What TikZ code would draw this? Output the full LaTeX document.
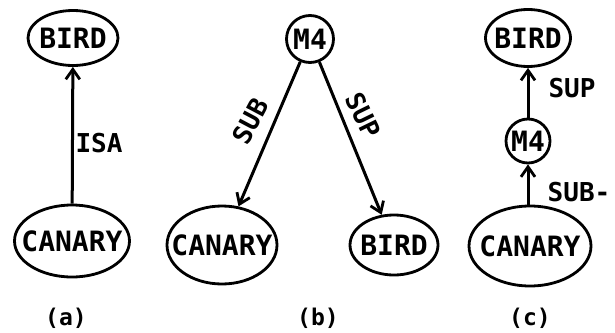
\documentclass[tikz,border=0pt]{standalone}
\usepackage{fontspec}
\setmonofont{DejaVu Sans Mono}
\usetikzlibrary{arrows.meta,shapes.geometric}
\newcommand\ntxt[1]{\makebox[0pt]{#1}}
\begin{document}
\begin{tikzpicture}[x=1pt,y=-1pt,
  every node/.style={font=\ttfamily\bfseries\fontsize{28}{30}\selectfont},
  ell/.style={draw, ellipse, line width=2.8pt, inner sep=0pt},
  circ/.style={draw, circle, line width=2.8pt, inner sep=0pt, minimum size=46pt},
  arr/.style={line width=3pt, -{Straight Barb[length=10pt,width=14pt,line width=2.8pt]}},
  lab/.style={font=\ttfamily\bfseries\fontsize{26}{28}\selectfont, inner sep=1pt},
  captxt/.style={font=\ttfamily\bfseries\fontsize{23}{26}\selectfont}]
\useasboundingbox (0,0) rectangle (615,332);
% (a)
\node[ell, minimum width=90pt, minimum height=55pt] (birdA) at (73,38) {\ntxt{BIRD}};
\node[ell, minimum width=115pt, minimum height=72pt] (canaryA) at (72,241) {\ntxt{CANARY}};
\draw[arr] (canaryA) -- (birdA);
\node[lab] (isa) at (99,143) {ISA};
\node[captxt] (capA) at (66,318) {(a)};
% (b)
\node[circ, minimum size=47pt] (m4B) at (310,39) {M4};
\node[ell, minimum width=110pt, minimum height=78pt] (canaryB) at (222,245) {\ntxt{CANARY}};
\node[ell, minimum width=88pt, minimum height=60pt] (birdB) at (394,245) {\ntxt{BIRD}};
\draw[arr] (m4B) -- (canaryB);
\draw[arr] (m4B) -- (birdB);
\node[lab, rotate=62] (subB) at (250,121) {SUB};
\node[lab, rotate=-64] (supB) at (363,115) {SUP};
\node[captxt] (capB) at (318,318) {(b)};
% (c)
\node[ell, minimum width=85pt, minimum height=57pt] (birdC) at (528,38) {\ntxt{BIRD}};
\node[circ, minimum size=44pt] (m4C) at (528,141) {M4};
\node[ell, minimum width=122pt, minimum height=80pt] (canaryC) at (530,246) {\ntxt{CANARY}};
\draw[arr] (canaryC.north -| m4C) -- (m4C);
\draw[arr] (m4C) -- (birdC);
\node[lab] (supC) at (572,88) {SUP};
\node[lab] (subC) at (579,192) {SUB-};
\node[captxt] (capC) at (530,318) {(c)};
\end{tikzpicture}
\end{document}
